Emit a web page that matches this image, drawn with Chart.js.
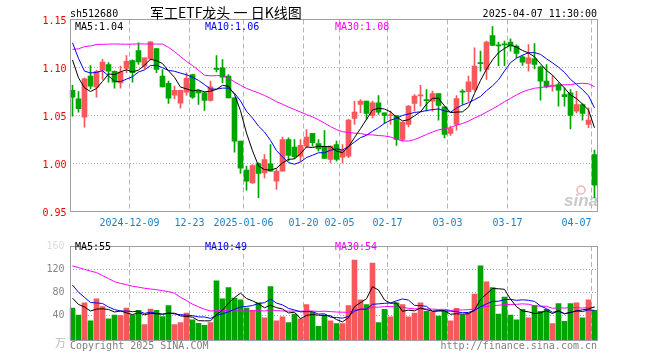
<!DOCTYPE html>
<html><head><meta charset="utf-8">
<script src="https://cdn.jsdelivr.net/npm/chart.js@4/dist/chart.umd.min.js"></script>
<style>
html,body{margin:0;padding:0;background:#fff;}
#wrap{position:relative;width:660px;height:360px;overflow:hidden;background:#fff;}
canvas{position:absolute;left:0;}
#kc{top:0;}
#vc{top:235px;}
</style></head><body>
<div id="wrap"><canvas id="kc" width="660" height="235"></canvas><canvas id="vc" width="660" height="125"></canvas></div>
<script>
// ---- data ----
const dates = [
'2024-11-25','2024-11-26','2024-11-27','2024-11-28','2024-11-29',
'2024-12-02','2024-12-03','2024-12-04','2024-12-05','2024-12-06',
'2024-12-09','2024-12-10','2024-12-11','2024-12-12','2024-12-13',
'2024-12-16','2024-12-17','2024-12-18','2024-12-19','2024-12-20',
'2024-12-23','2024-12-24','2024-12-25','2024-12-26','2024-12-27',
'2024-12-30','2024-12-31','2025-01-02','2025-01-03',
'2025-01-06','2025-01-07','2025-01-08','2025-01-09','2025-01-10',
'2025-01-13','2025-01-14','2025-01-15','2025-01-16','2025-01-17',
'2025-01-20','2025-01-21','2025-01-22','2025-01-23','2025-01-24','2025-01-27',
'2025-02-05','2025-02-06','2025-02-07',
'2025-02-10','2025-02-11','2025-02-12','2025-02-13','2025-02-14',
'2025-02-17','2025-02-18','2025-02-19','2025-02-20','2025-02-21',
'2025-02-24','2025-02-25','2025-02-26','2025-02-27','2025-02-28',
'2025-03-03','2025-03-04','2025-03-05','2025-03-06','2025-03-07',
'2025-03-10','2025-03-11','2025-03-12','2025-03-13','2025-03-14',
'2025-03-17','2025-03-18','2025-03-19','2025-03-20','2025-03-21',
'2025-03-24','2025-03-25','2025-03-26','2025-03-27','2025-03-28',
'2025-03-31','2025-04-01','2025-04-02','2025-04-03','2025-04-07'];

const openP = [1.0761,1.0674,1.0483,1.0910,1.0795,1.0972,1.1031,1.0959,1.0840,1.0990,
1.1073,1.1177,1.1014,1.1090,1.1198,1.0910,1.0834,1.0712,1.0629,1.0743,
1.0927,1.0761,1.0736,1.0656,1.0985,1.0997,1.0910,1.0684,1.0233,0.9931,
0.9799,1.0000,0.9903,0.9997,0.9816,0.9920,1.0250,1.0170,1.0077,1.0181,
1.0313,1.0208,1.0174,1.0042,1.0198,1.0066,1.0077,1.0469,1.0615,1.0649,
1.0500,1.0632,1.0528,1.0497,1.0500,1.0250,1.0406,1.0625,1.0705,1.0660,
1.0649,1.0729,1.0590,1.0313,1.0406,1.0747,1.0747,1.0771,1.1045,1.0979,
1.1333,1.1232,1.1240,1.1264,1.1222,1.1111,1.1042,1.1090,1.1007,1.0858,
1.0806,1.0823,1.0719,1.0736,1.0545,1.0615,1.0406,1.0094];
const highP = [1.0813,1.0750,1.0893,1.1021,1.0970,1.1084,1.1052,1.0965,1.1014,1.1125,
1.1080,1.1257,1.1101,1.1270,1.1198,1.0979,1.0858,1.0806,1.0765,1.0945,
1.0930,1.0765,1.0747,1.0858,1.1125,1.1083,1.0927,1.0684,1.0233,0.9972,
0.9990,1.0007,1.0094,1.0198,0.9945,1.0275,1.0268,1.0250,1.0250,1.0354,
1.0313,1.0250,1.0344,1.0181,1.0233,1.0198,1.0460,1.0649,1.0667,1.0649,
1.0649,1.0708,1.0528,1.0545,1.0500,1.0431,1.0604,1.0719,1.0813,1.0771,
1.0754,1.0729,1.0590,1.0389,1.0708,1.0771,1.0910,1.1205,1.1170,1.1274,
1.1427,1.1264,1.1274,1.1299,1.1236,1.1125,1.1240,1.1250,1.1014,1.1031,
1.0917,1.0840,1.0788,1.0771,1.0753,1.0625,1.0580,1.0139];
const lowP = [1.0493,1.0535,1.0379,1.0778,1.0691,1.0876,1.0847,1.0785,1.0785,1.0945,
1.0847,1.1031,1.0986,1.1077,1.0945,1.0799,1.0625,1.0674,1.0577,1.0712,
1.0677,1.0615,1.0552,1.0649,1.0955,1.0840,1.0684,1.0118,0.9896,0.9722,
0.9792,0.9643,0.9851,0.9920,0.9729,0.9920,1.0024,1.0050,1.0024,1.0163,
1.0181,1.0128,1.0052,1.0007,1.0024,1.0007,1.0060,1.0406,1.0528,1.0458,
1.0476,1.0511,1.0417,1.0406,1.0188,1.0233,1.0382,1.0545,1.0597,1.0545,
1.0545,1.0452,1.0267,1.0292,1.0347,1.0615,1.0650,1.0754,1.0962,1.0875,
1.1229,1.1020,1.1020,1.1170,1.1101,1.1021,1.0962,1.0986,1.0660,1.0788,
1.0753,1.0597,1.0597,1.0361,1.0528,1.0451,1.0372,0.9643];
const closeP = [1.0691,1.0570,1.0882,1.0806,1.0959,1.1056,1.0962,1.0847,1.0952,1.1063,
1.0945,1.1059,1.1101,1.1268,1.0979,1.0799,1.0681,1.0761,1.0761,1.0886,
1.0691,1.0736,1.0656,1.0799,1.0980,1.0899,1.0684,1.0233,0.9952,0.9816,
0.9979,0.9896,1.0042,0.9920,0.9920,1.0250,1.0083,1.0070,1.0188,1.0274,
1.0216,1.0153,1.0052,1.0181,1.0042,1.0139,1.0452,1.0535,1.0649,1.0521,
1.0632,1.0535,1.0500,1.0503,1.0250,1.0431,1.0597,1.0702,1.0710,1.0655,
1.0729,1.0604,1.0302,1.0365,1.0677,1.0743,1.0851,1.1014,1.1040,1.1264,
1.1229,1.1226,1.1236,1.1222,1.1146,1.1056,1.1101,1.1031,1.0858,1.0799,
1.0813,1.0764,1.0695,1.0500,1.0615,1.0521,1.0451,0.9774];
const volume = [52.6,40.7,62,30.9,68.5,55.4,34.2,40.7,39.6,52.6,
40.7,48.9,24.4,51,48.9,38,57,24.4,27.6,44,
32.5,26.5,22.7,27.6,99.6,68.5,88,70,66.9,52.6,
48.9,62,35.8,89.8,30.9,37.4,27.6,42.3,34.2,58.7,
45.6,21.1,40.7,30.9,26,26,57,135.5,66.9,58.7,
130.6,27.6,50.5,37.4,62,58.7,37.4,44,62,47.3,
45.6,39.1,47.3,30.9,52.2,40.7,44,76.7,125.7,97.9,
88,42.3,71.8,40.7,32.5,50.5,35.8,57,47.3,50.5,
26,60.3,30,60.3,62,36,66.9,48.9];
// sessions before the first visible one (estimated from where the MA lines start)
const priorCloses = [1.04,1.02,1.06,1.05,1.10,1.09,1.08,1.10,1.11,1.09,1.10,1.11,1.13,1.10,1.08,
1.17,1.21,1.23,1.24,1.20,1.22,1.22,1.10,1.09,1.088,1.15,1.14,1.10,1.08];
const priorVolumes = [130,150,125,145,210,190,200,130,115,128,95,80,90,85,89,
105,108,240,210,220,165,150,120,75,65,95,85,65,52];
const tickDates = ['2024-12-09','2024-12-23','2025-01-06','2025-01-20','2025-02-05','2025-02-17','2025-03-03','2025-03-17','2025-04-07'];
const tickTexts = ['2024-12-09','12-23','2025-01-06','01-20','02-05','02-17','03-03','03-17','04-07     '];
const priceTicks = [0.95,1.00,1.05,1.10,1.15];
const volumeTicks = [40,80,120,160];

// ---- derived ----
function movingAvg(prior, vals, n){
  const all = prior.concat(vals);
  return vals.map((_, i) => { const j = i + prior.length; let s = 0; for (let k = j - n + 1; k <= j; k++) s += all[k]; return s / n; });
}
const ma5 = movingAvg(priorCloses, closeP, 5), ma10 = movingAvg(priorCloses, closeP, 10), ma30 = movingAvg(priorCloses, closeP, 30);
const vma5 = movingAvg(priorVolumes, volume, 5), vma10 = movingAvg(priorVolumes, volume, 10), vma30 = movingAvg(priorVolumes, volume, 30);
const UP = '#f65959', DOWN = '#00a400';
const candleColors = closeP.map((c, i) => c > openP[i] ? UP : DOWN);
const tickIndex = tickDates.map(d => dates.indexOf(d));
const MONO = '"DejaVu Sans Mono", "Liberation Mono", monospace';
const last = closeP.length - 1;

function xGridColor(ctx){ return tickIndex.includes(ctx.index) ? '#b4b4b4' : 'rgba(0,0,0,0)'; }
function frame(chart){
  const a = chart.chartArea, c = chart.ctx;
  c.save(); c.strokeStyle = '#a0a0a0'; c.lineWidth = 1;
  const l = Math.round(a.left) + 0.5, r = Math.round(a.right) - 0.5, t = Math.floor(a.top) + 0.5, b = Math.floor(a.bottom) + 0.5;
  c.strokeRect(l, t, r - l, b - t); c.restore();
}

const kPlugin = {
  id: 'kdeco',
  beforeDatasetsDraw(chart){
    const c = chart.ctx; c.save();
    c.fillStyle = '#c9c9c9'; c.font = 'italic bold 17px "Liberation Sans", Arial, sans-serif';
    c.textBaseline = 'alphabetic'; c.textAlign = 'left';
    c.fillText('sina', 564, 206);
    c.strokeStyle = '#f2b4b4'; c.lineWidth = 1.5;
    c.beginPath(); c.arc(581, 190, 4, 0, Math.PI * 2); c.stroke();
    c.restore();
  },
  afterDraw(chart){
    frame(chart);
    const c = chart.ctx; c.save();
    c.textBaseline = 'alphabetic';
    c.font = '10px ' + MONO; c.fillStyle = '#000'; c.textAlign = 'left';
    c.fillText('sh512680', 70, 17);
    c.textAlign = 'right'; c.fillText('2025-04-07 11:30:00', 597, 17);
    c.textAlign = 'left'; c.font = '14px "Noto Sans CJK SC", sans-serif';
    c.fillText('军工ETF龙头 一 日K线图', 150, 18);
    c.font = '10px ' + MONO;
    c.fillStyle = '#000'; c.fillText('MA5:' + ma5[last].toFixed(2), 75, 29.5);
    c.fillStyle = '#0000ff'; c.fillText('MA10:' + ma10[last].toFixed(2), 205, 29.5);
    c.fillStyle = '#ff00ff'; c.fillText('MA30:' + ma30[last].toFixed(2), 335, 29.5);
    c.restore();
  }
};
const vPlugin = {
  id: 'vdeco',
  afterDraw(chart){
    frame(chart);
    const c = chart.ctx; c.save();
    c.textBaseline = 'alphabetic'; c.textAlign = 'left';
    c.font = '10px ' + MONO;
    c.fillStyle = '#000'; c.fillText('MA5:' + Math.round(vma5[last]), 75, 15);
    c.fillStyle = '#0000ff'; c.fillText('MA10:' + Math.round(vma10[last]), 205, 15);
    c.fillStyle = '#ff00ff'; c.fillText('MA30:' + Math.round(vma30[last]), 335, 15);
    c.fillStyle = '#808080'; c.fillText('Copyright 2025 SINA.COM', 70, 114);
    c.textAlign = 'right'; c.fillText('http://finance.sina.com.cn', 597, 114);
    c.textAlign = 'left'; c.fillStyle = '#b8b8b8'; c.font = '11px "Noto Sans CJK SC", sans-serif';
    c.fillText('万', 55, 112);
    c.restore();
  }
};

function lineDs(data, color, order){
  return { type: 'line', data, borderColor: color, borderWidth: 1, pointRadius: 0, tension: 0, fill: false, order };
}
const common = {
  responsive: false, animation: false, events: [],
  plugins: { legend: { display: false }, tooltip: { enabled: false } }
};

new Chart(document.getElementById('kc'), {
  type: 'bar',
  data: {
    labels: dates,
    datasets: [
      lineDs(ma5, '#000000', 0),
      lineDs(ma10, '#0000ff', 1),
      lineDs(ma30, '#ff00ff', 2),
      { type: 'bar', data: openP.map((o, i) => [o, closeP[i]]), backgroundColor: candleColors, barThickness: 5, minBarLength: 1, grouped: false, borderWidth: 0, order: 3 },
      { type: 'bar', data: lowP.map((l, i) => [l, highP[i]]), backgroundColor: candleColors, barThickness: 1, grouped: false, borderWidth: 0, order: 4 }
    ]
  },
  options: Object.assign({}, common, {
    layout: { padding: { left: 0, right: 62.5, top: 19.5, bottom: 0 } },
    scales: {
      x: {
        offset: true,
        afterFit(s){ s.height = 23.5; },
        grid: { offset: true, drawTicks: false, color: xGridColor, lineWidth: 1 },
        border: { display: false, dash: [5, 3] },
        ticks: {
          autoSkip: false, maxRotation: 0, minRotation: 0, padding: 6, labelOffset: -3,
          color: '#1a82c8', font: { family: MONO, size: 10 },
          callback(v, i){ const k = tickIndex.indexOf(i); return k >= 0 ? tickTexts[k] : ''; }
        }
      },
      y: {
        min: 0.95, max: 1.15,
        afterFit(s){ s.width = 69.5; },
        afterBuildTicks(s){ s.ticks = priceTicks.map(v => ({ value: v })); },
        grid: { drawTicks: false, color: ctx => (ctx.tick && (ctx.tick.value === 0.95 || ctx.tick.value === 1.15)) ? 'rgba(0,0,0,0)' : '#a8a8a8' },
        border: { display: false, dash: [1, 2] },
        ticks: { padding: 3, labelOffset: 2, color: '#f00000', font: { family: MONO, size: 10 }, callback: v => Number(v).toFixed(2) }
      }
    }
  }),
  plugins: [kPlugin]
});

new Chart(document.getElementById('vc'), {
  type: 'bar',
  data: {
    labels: dates,
    datasets: [
      lineDs(vma5, '#000000', 0),
      lineDs(vma10, '#0000ff', 1),
      lineDs(vma30, '#ff00ff', 2),
      { type: 'bar', data: volume, base: -3.3, backgroundColor: candleColors, barThickness: 5, grouped: false, borderWidth: 0, order: 3 }
    ]
  },
  options: Object.assign({}, common, {
    layout: { padding: { left: 0, right: 62.5, top: 5.5, bottom: 0 } },
    scales: {
      x: {
        offset: true,
        afterFit(s){ s.height = 19.5; },
        grid: { offset: true, drawTicks: false, color: xGridColor, lineWidth: 1 },
        border: { display: false, dash: [5, 3] },
        ticks: { display: false, autoSkip: false, maxRotation: 0 }
      },
      y: {
        min: -3.3, max: 160,
        afterFit(s){ s.width = 69.5; },
        afterBuildTicks(s){ s.ticks = volumeTicks.map(v => ({ value: v })); },
        grid: { drawTicks: false, color: ctx => (ctx.tick && ctx.tick.value === 160) ? 'rgba(0,0,0,0)' : '#a8a8a8' },
        border: { display: false, dash: [1, 2] },
        ticks: { padding: 5, color: ctx => (ctx.tick && ctx.tick.value === 160) ? '#dcdcdc' : '#858585', font: { family: MONO, size: 10 }, callback: v => String(v) }
      }
    }
  }),
  plugins: [vPlugin]
});
</script>
</body></html>
